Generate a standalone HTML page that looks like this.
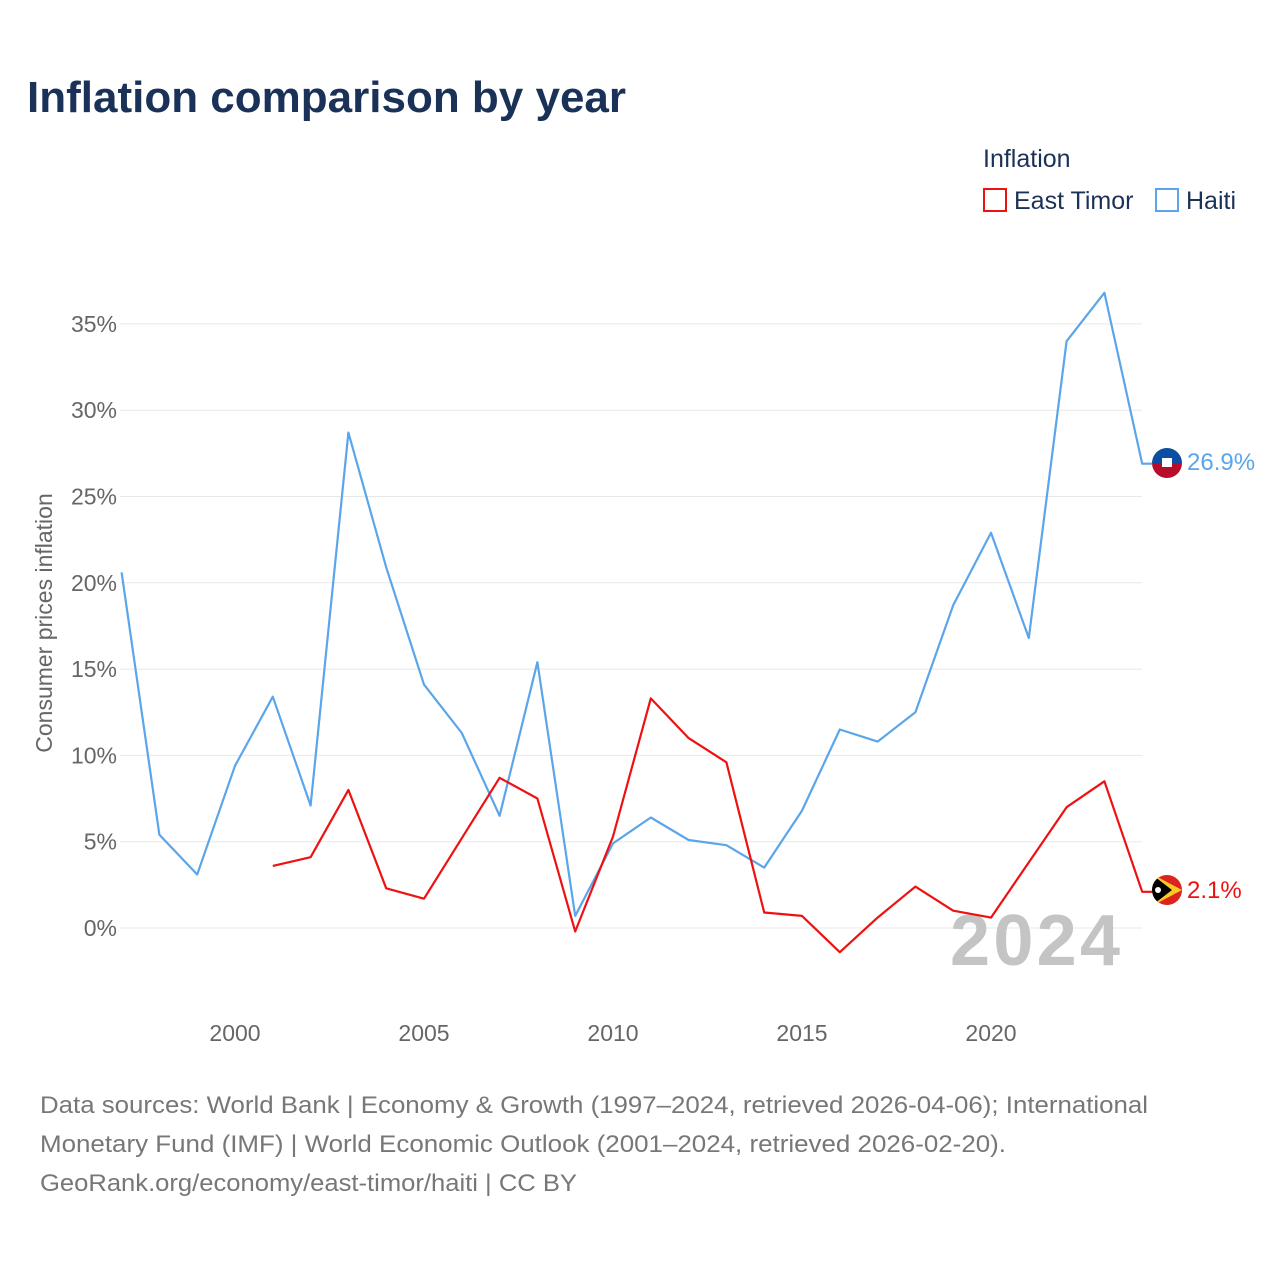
<!DOCTYPE html>
<html><head><meta charset="utf-8">
<style>
body{margin:0;background:#fff;font-family:"Liberation Sans",sans-serif;}
svg text{font-family:"Liberation Sans",sans-serif;}
</style></head>
<body>
<svg id="chart" width="1280" height="1280" xmlns="http://www.w3.org/2000/svg">
<rect width="1280" height="1280" fill="#fff"/>
<text x="27" y="112" font-size="44" font-weight="bold" fill="#1a3257">Inflation comparison by year</text>
<text x="983" y="167" font-size="25" fill="#1a3257">Inflation</text>
<g>
<rect x="984" y="189" width="22" height="22" fill="none" stroke="#ee1111" stroke-width="2"/>
<text x="1014" y="209" font-size="25" fill="#1a3257">East Timor</text></g>
<g>
<rect x="1156" y="189" width="22" height="22" fill="none" stroke="#5ba5ea" stroke-width="2"/>
<text x="1186" y="209" font-size="25" fill="#1a3257">Haiti</text></g>
<text transform="translate(52,623) rotate(-90)" text-anchor="middle" font-size="23" fill="#666">Consumer prices inflation</text>
<g id="grid"></g><g id="yticks"></g><g id="xticks"></g>
<text x="1120" y="965" text-anchor="end" font-size="72" font-weight="bold" fill="#c4c4c4" textLength="170">2024</text>
<g id="series"></g>
<g>
<clipPath id="ch"><circle cx="1167" cy="463" r="15"/></clipPath>
<g clip-path="url(#ch)"><rect x="1150" y="446" width="34" height="17" fill="#0b4ea2"/><rect x="1150" y="463" width="34" height="17" fill="#b80c2a"/><rect x="1162" y="458" width="10" height="9" fill="#fff"/></g></g>
<g>
<clipPath id="ct"><circle cx="1167" cy="890" r="15"/></clipPath>
<g clip-path="url(#ct)"><rect x="1150" y="873" width="34" height="34" fill="#dc241f"/><polygon points="1150,873 1182,890 1150,907" fill="#ffc726"/><polygon points="1150,873 1172,890 1150,907" fill="#000"/><circle cx="1158" cy="890" r="3" fill="#fff"/></g></g>
<text id="haiti-label" x="1187" y="470" font-size="24" fill="#5ba5ea">26.9%</text>
<text id="timor-label" x="1187" y="898" font-size="24" fill="#ee1111">2.1%</text>
<g font-size="24" fill="#777">
<text x="40" y="1113" textLength="1108" lengthAdjust="spacingAndGlyphs">Data sources: World Bank | Economy &amp; Growth (1997–2024, retrieved 2026-04-06); International</text>
<text x="40" y="1152" textLength="966" lengthAdjust="spacingAndGlyphs">Monetary Fund (IMF) | World Economic Outlook (2001–2024, retrieved 2026-02-20).</text>
<text x="40" y="1191" textLength="537" lengthAdjust="spacingAndGlyphs">GeoRank.org/economy/east-timor/haiti | CC BY</text></g>
</svg>
<script>
const yTicks=[0,5,10,15,20,25,30,35];
const xTicks=[2000,2005,2010,2015,2020];
const haitiYears=[1997,1998,1999,2000,2001,2002,2003,2004,2005,2006,2007,2008,2009,2010,2011,2012,2013,2014,2015,2016,2017,2018,2019,2020,2021,2022,2023,2024];
const haitiValues=[20.6,5.4,3.1,9.4,13.4,7.1,28.7,20.9,14.1,11.3,6.5,15.4,0.7,4.9,6.4,5.1,4.8,3.5,6.8,11.5,10.8,12.5,18.7,22.9,16.8,34.0,36.8,26.9];
const timorYears=[2001,2002,2003,2004,2005,2006,2007,2008,2009,2010,2011,2012,2013,2014,2015,2016,2017,2018,2019,2020,2021,2022,2023,2024];
const timorValues=[3.6,4.1,8.0,2.3,1.7,5.2,8.7,7.5,-0.2,5.3,13.3,11.0,9.6,0.9,0.7,-1.4,0.6,2.4,1.0,0.6,3.8,7.0,8.5,2.1];
const NS="http://www.w3.org/2000/svg";
const x=yr=>121.6+(yr-1997)*37.8;
const y=v=>928-v*17.26;
function mk(t,a,p){const e=document.createElementNS(NS,t);for(const k in a)e.setAttribute(k,a[k]);p.appendChild(e);return e;}
const grid=document.getElementById('grid'),yt=document.getElementById('yticks'),xt=document.getElementById('xticks');
yTicks.forEach(v=>{
 const l=mk('line',{x1:120,x2:1142,y1:y(v),y2:y(v),stroke:'#e8e8e8','stroke-width':1},grid);
 
 
 const t=mk('text',{x:117,y:y(v)+8,'text-anchor':'end','font-size':23,fill:'#666'},yt);
 
 
 t.textContent=v+'%';
});
xTicks.forEach(v=>{
 const t=mk('text',{x:x(v),y:1041,'text-anchor':'middle','font-size':23,fill:'#666'},xt);
 
 
 t.textContent=v;
});
const s=document.getElementById('series');
function line(yrs,vals,col,name){
 let d=yrs.map((yr,i)=>(i?'L':'M')+x(yr).toFixed(1)+','+y(vals[i]).toFixed(1)).join(' ');
 d+=' L1152,'+y(vals[vals.length-1]).toFixed(1);
 const p=mk('path',{d:d,fill:'none',stroke:col,'stroke-width':2.2,'stroke-linejoin':'round'},s);
 
 
}
line(haitiYears,haitiValues,'#5ba5ea','haiti-line');
line(timorYears,timorValues,'#ee1111','east-timor-line');
const hl=document.getElementById('haiti-label');hl.textContent=haitiValues[haitiValues.length-1]+'%';
const tl=document.getElementById('timor-label');tl.textContent=timorValues[timorValues.length-1]+'%';
</script>
</body></html>
